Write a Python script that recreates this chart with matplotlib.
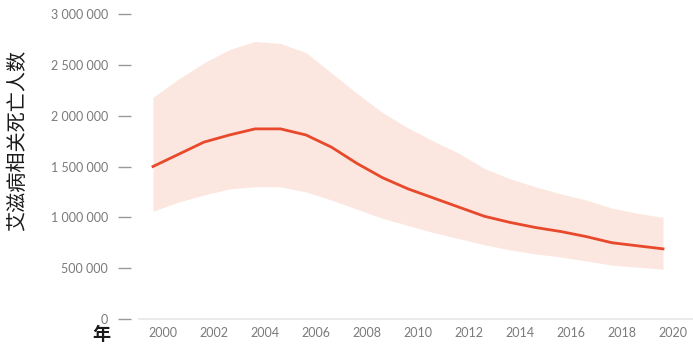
import numpy as np
import matplotlib.pyplot as plt
from matplotlib.ticker import FuncFormatter

# data (deaths, millions)
years = list(range(2000, 2021))
deaths = [1.50, 1.62, 1.74, 1.81, 1.87, 1.87, 1.81, 1.69, 1.53, 1.39, 1.28,
          1.19, 1.10, 1.01, 0.95, 0.90, 0.86, 0.81, 0.75, 0.72, 0.69]
upper = [2.18, 2.36, 2.52, 2.65, 2.73, 2.71, 2.62, 2.42, 2.22, 2.03, 1.88,
         1.75, 1.63, 1.48, 1.38, 1.30, 1.23, 1.17, 1.09, 1.04, 1.00]
lower = [1.06, 1.15, 1.22, 1.28, 1.30, 1.30, 1.25, 1.17, 1.08, 0.99, 0.92,
         0.85, 0.79, 0.73, 0.68, 0.64, 0.61, 0.57, 0.53, 0.51, 0.49]
yticks = [0, 500000, 1000000, 1500000, 2000000, 2500000, 3000000]
xticks = list(range(2000, 2021, 2))

W, H = 693, 359
fig = plt.figure(figsize=(W / 100, H / 100), dpi=100)
ax = fig.add_axes([131 / W, (H - 319) / H, 1 - 131 / W, (319 - 14) / H])

yrs = np.array(years)
ax.fill_between(yrs, np.array(lower) * 1e6, np.array(upper) * 1e6,
                color='#fbe7df', lw=0)
ax.plot(yrs, np.array(deaths) * 1e6, color='#e8482b', lw=2)

# px: 2000 -> 153, one year = 25.5 px
ax.set_xlim(2000 - 22 / 25.5, 2000 + 540 / 25.5)
ax.set_ylim(0, 3000000)

for s in ax.spines.values():
    s.set_visible(False)
ax.plot([2000 - 14 / 25.5, 2000 + 540 / 25.5], [0, 0], color='#e6e6e6',
        lw=1.2, clip_on=False, zorder=0)

ax.set_yticks(yticks)
ax.yaxis.set_major_formatter(FuncFormatter(lambda v, p: f"{v:,.0f}".replace(",", " ")))
ax.tick_params(axis='y', length=9.4, width=1, color='#999999', pad=7,
               labelsize=9, labelcolor='#7a7a7a')
ax.set_xticks(np.array(xticks) + 0.4)
ax.set_xticklabels([str(x) for x in xticks])
ax.tick_params(axis='x', length=0, pad=6, labelsize=9, labelcolor='#7a7a7a')
for lab in ax.get_xticklabels() + ax.get_yticklabels():
    lab.set_fontfamily('Lato')

fig.text(18 / W, 1 - 140 / H, '艾滋病相关死亡人数', rotation=90, ha='center',
         va='center', fontsize=14.5, family=['Noto Sans CJK SC', 'DejaVu Sans'],
         color='#1a1a1a')
fig.text(101 / W, 1 - 335 / H, '年', ha='center', va='center', fontsize=13,
         family=['Noto Sans CJK SC', 'DejaVu Sans'], color='#1a1a1a',
         fontweight='bold')

fig.savefig('out.png', dpi=100)
